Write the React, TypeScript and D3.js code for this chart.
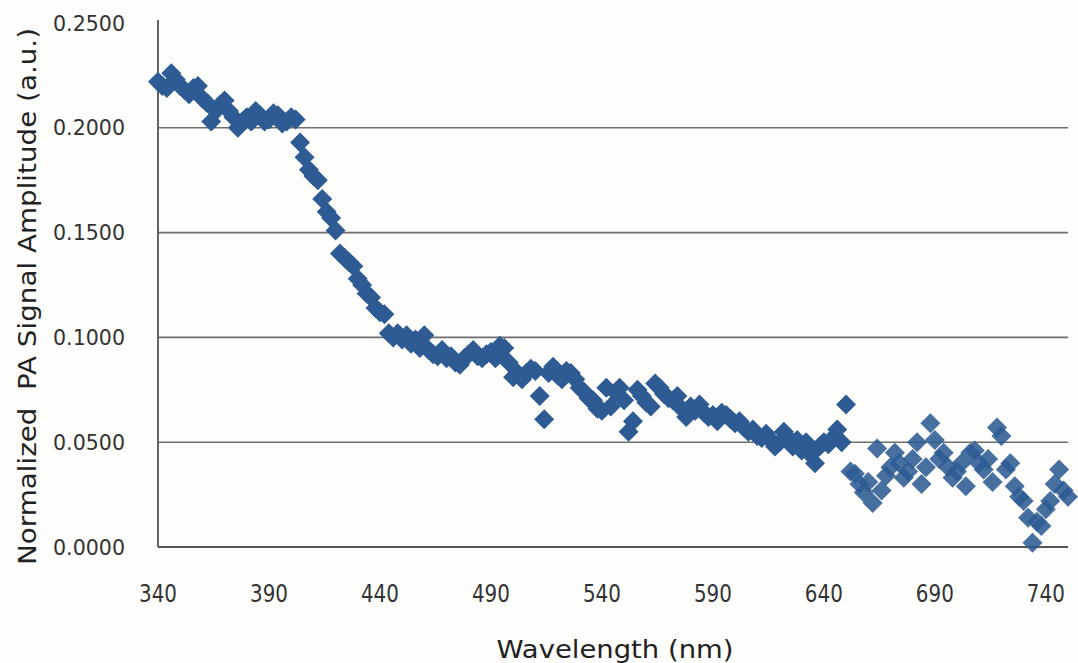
import React from "react";
import * as d3 from "d3";

const wavelengths: number[] = [
  340, 342, 344, 346, 348, 350, 352, 354, 356, 358, 360, 362, 364, 366, 368, 370, 372, 374, 376, 378,
  380, 382, 384, 386, 388, 390, 392, 394, 396, 398, 400, 402, 404, 406, 408, 410, 412, 414, 416, 418,
  420, 422, 424, 426, 428, 430, 432, 434, 436, 438, 440, 442, 444, 446, 448, 450, 452, 454, 456, 458,
  460, 462, 464, 466, 468, 470, 472, 474, 476, 478, 480, 482, 484, 486, 488, 490, 492, 494, 496, 498,
  500, 502, 504, 506, 508, 510, 512, 514, 516, 518, 520, 522, 524, 526, 528, 530, 532, 534, 536, 538,
  540, 542, 544, 546, 548, 550, 552, 554, 556, 558, 560, 562, 564, 566, 568, 570, 572, 574, 576, 578,
  580, 582, 584, 586, 588, 590, 592, 594, 596, 598, 600, 602, 604, 606, 608, 610, 612, 614, 616, 618,
  620, 622, 624, 626, 628, 630, 632, 634, 636, 638, 640, 642, 644, 646, 648, 650, 652, 654, 656, 658,
  660, 662, 664, 666, 668, 670, 672, 674, 676, 678, 680, 682, 684, 686, 688, 690, 692, 694, 696, 698,
  700, 702, 704, 706, 708, 710, 712, 714, 716, 718, 720, 722, 724, 726, 728, 730, 732, 734, 736, 738,
  740, 742, 744, 746, 748, 750,
];

const amplitudes: number[] = [
  0.222, 0.220, 0.219, 0.226, 0.223, 0.220, 0.218, 0.216, 0.219, 0.220, 0.214, 0.212, 0.203, 0.208, 0.211, 0.213, 0.208, 0.205, 0.200, 0.203,
  0.205, 0.203, 0.208, 0.206, 0.203, 0.204, 0.207, 0.206, 0.202, 0.203, 0.205, 0.204, 0.193, 0.186, 0.180, 0.177, 0.175, 0.166, 0.160, 0.157,
  0.151, 0.140, 0.138, 0.136, 0.134, 0.128, 0.125, 0.121, 0.119, 0.114, 0.112, 0.111, 0.102, 0.100, 0.102, 0.099, 0.101, 0.097, 0.099, 0.095,
  0.101, 0.094, 0.092, 0.091, 0.094, 0.090, 0.091, 0.088, 0.087, 0.090, 0.092, 0.094, 0.091, 0.090, 0.092, 0.093, 0.090, 0.096, 0.095, 0.088,
  0.081, 0.083, 0.080, 0.083, 0.085, 0.084, 0.072, 0.061, 0.083, 0.086, 0.082, 0.080, 0.084, 0.083, 0.080, 0.076, 0.074, 0.071, 0.070, 0.066,
  0.065, 0.076, 0.067, 0.074, 0.076, 0.070, 0.055, 0.060, 0.075, 0.072, 0.069, 0.067, 0.078, 0.076, 0.073, 0.071, 0.070, 0.072, 0.066, 0.062,
  0.067, 0.065, 0.068, 0.064, 0.062, 0.063, 0.060, 0.064, 0.063, 0.061, 0.059, 0.060, 0.057, 0.055, 0.056, 0.053, 0.052, 0.054, 0.051, 0.048,
  0.050, 0.055, 0.052, 0.048, 0.051, 0.046, 0.050, 0.044, 0.040, 0.048, 0.050, 0.049, 0.052, 0.056, 0.050, 0.068, 0.036, 0.035, 0.030, 0.026,
  0.031, 0.021, 0.047, 0.027, 0.034, 0.038, 0.045, 0.040, 0.033, 0.036, 0.042, 0.050, 0.030, 0.038, 0.059, 0.051, 0.042, 0.045, 0.038, 0.033,
  0.036, 0.040, 0.029, 0.045, 0.046, 0.040, 0.037, 0.042, 0.031, 0.057, 0.053, 0.037, 0.040, 0.029, 0.024, 0.022, 0.014, 0.002, 0.012, 0.010,
  0.018, 0.022, 0.030, 0.037, 0.027, 0.024,
];

const xTicks: number[] = [340, 390, 440, 490, 540, 590, 640, 690, 740];
const yTicks: number[] = [0, 0.05, 0.1, 0.15, 0.2, 0.25];

const xTitle = "Wavelength (nm)";
const yTitle = "Normalized\u00a0\u00a0PA Signal Amplitude (a.u.)";

export default function App() {
  const W = 1078;
  const H = 663;
  const left = 158;
  const right = 1068;
  const top = 23;
  const bottom = 547;

  const x = d3.scaleLinear().domain([340, 750]).range([left, right]);
  const y = d3.scaleLinear().domain([0, 0.25]).range([bottom, top]);

  const r = 10;
  const diamond = `M0,${-r}L${r},0L0,${r}L${-r},0Z`;

  const points = wavelengths.map((w, i) => ({ w, v: amplitudes[i] }));

  return (
    <svg
      width={W}
      height={H}
      style={{ position: "absolute", left: 0, top: 0, background: "#fdfdfc" }}
      fontFamily="'DejaVu Sans', sans-serif"
    >
      <rect x={0} y={0} width={W} height={H} fill="#fdfdfc" />
      {yTicks.filter((t) => t > 0 && t < 0.25).map((t) => (
        <line key={t} x1={left} x2={right} y1={y(t)} y2={y(t)} stroke="#6e6e6e" strokeWidth={1.6} />
      ))}
      <line x1={left} x2={right} y1={y(0)} y2={y(0)} stroke="#555" strokeWidth={1.8} />
      <line x1={left} x2={left} y1={y(0.25) - 3} y2={y(0)} stroke="#555" strokeWidth={1.8} />
      {yTicks.map((t) => (
        <text
          key={t}
          x={125}
          y={y(t)}
          dy="0.36em"
          textAnchor="end"
          fontSize={21}
          fill="#333"
          textLength={72}
          lengthAdjust="spacingAndGlyphs"
        >
          {d3.format(".4f")(t)}
        </text>
      ))}
      {xTicks.map((t) => (
        <text
          key={t}
          x={x(t)}
          y={602}
          textAnchor="middle"
          fontSize={24}
          fill="#333"
          textLength={38}
          lengthAdjust="spacingAndGlyphs"
        >
          {t}
        </text>
      ))}
      {points.map((p, i) => (
        <path
          key={i}
          d={diamond}
          transform={`translate(${x(p.w)},${y(p.v)})`}
          fill="#2e5b93"
          fillOpacity={p.w > 650 ? 0.88 : 1}
        />
      ))}
      <text
        x={615}
        y={658}
        textAnchor="middle"
        fontSize={25}
        fill="#222"
        textLength={237}
        lengthAdjust="spacingAndGlyphs"
      >
        {xTitle}
      </text>
      <text
        transform={`translate(36,${(28 + 565) / 2}) rotate(-90)`}
        textAnchor="middle"
        fontSize={25}
        fill="#222"
        textLength={537}
        lengthAdjust="spacingAndGlyphs"
      >
        {yTitle}
      </text>
    </svg>
  );
}
